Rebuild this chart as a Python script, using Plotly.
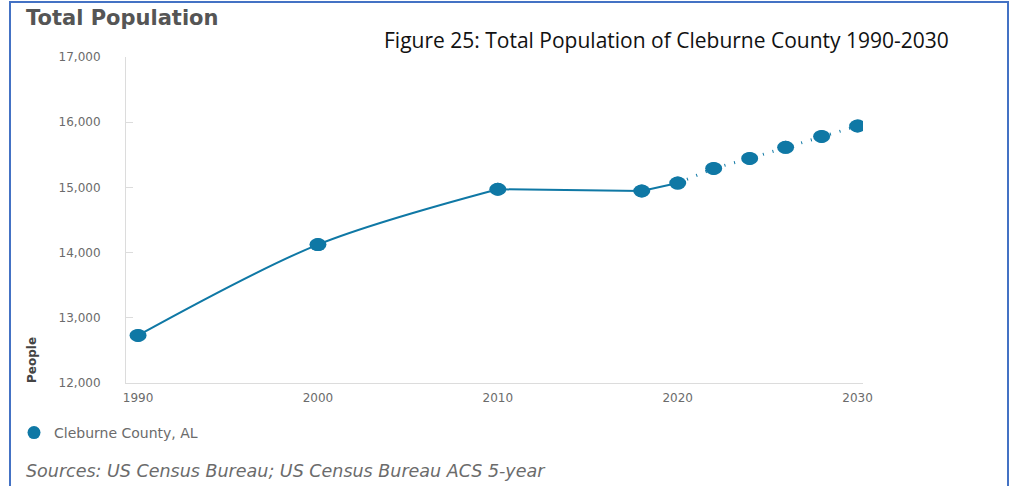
import plotly.graph_objects as go

# Historical census / ACS estimates
hist_years = [1990, 2000, 2010, 2018, 2020]
hist_pop = [12730, 14123, 14972, 14945, 15067]

# Projected population
proj_years = [2020, 2022, 2024, 2026, 2028, 2030]
proj_pop = [15067, 15291, 15445, 15614, 15782, 15942]

y_ticks = [12000, 13000, 14000, 15000, 16000, 17000]
x_ticks = [1990, 2000, 2010, 2020, 2030]

BLUE = "#0F78A5"
TICK_FONT = dict(family="DejaVu Sans", size=12, color="#6b6b6b")

fig = go.Figure()

# Growth phase as a smooth curve, then the flat stretch after 2010
fig.add_trace(go.Scatter(
    x=hist_years[:3], y=hist_pop[:3], mode="lines",
    line=dict(color=BLUE, width=2, shape="spline", smoothing=0.9),
    showlegend=False, hoverinfo="skip",
))
fig.add_trace(go.Scatter(
    x=hist_years[2:], y=hist_pop[2:], mode="lines",
    line=dict(color=BLUE, width=2),
    showlegend=False, hoverinfo="skip",
))
fig.add_trace(go.Scatter(
    x=proj_years, y=proj_pop, mode="lines",
    line=dict(color=BLUE, width=3, dash="1px,9px"),
    showlegend=False, hoverinfo="skip",
))
all_years = hist_years[:-1] + proj_years
all_pop = hist_pop[:-1] + proj_pop
fig.add_trace(go.Scatter(
    x=all_years, y=all_pop, mode="markers",
    marker=dict(color=BLUE, size=13, line=dict(width=0)),
    name="Cleburne County, AL",
))

# Oval point markers, anchored on each data point and sized in pixels
point_shapes = [
    dict(type="circle", xref="x", yref="y", xsizemode="pixel", ysizemode="pixel",
         xanchor=yr, yanchor=val, x0=-8.5, x1=8.5, y0=-6.5, y1=6.5,
         fillcolor=BLUE, line=dict(width=0), layer="above")
    for yr, val in zip(all_years, all_pop)
]

fig.update_xaxes(
    range=[1989.33, 2030.3], tickvals=x_ticks, ticktext=[str(v) for v in x_ticks],
    showgrid=False, zeroline=False, showline=True, linecolor="#dcdcdc", linewidth=1,
    ticks="", tickfont=TICK_FONT, ticklabelstandoff=4,
)
fig.update_yaxes(
    range=[12000, 17000], tickvals=y_ticks, ticktext=[f"{v:,}" for v in y_ticks],
    showgrid=False, zeroline=False, showline=True, linecolor="#dcdcdc", linewidth=1,
    ticks="inside", ticklen=7, tickcolor="#dcdcdc", tickfont=TICK_FONT,
    ticklabelstandoff=22,
)

W, H = 1015, 486
L, R, T, B = 126, 152, 57, 103
pw, ph = W - L - R, H - T - B


def px(xp):
    return (xp - L) / pw


def py(yp):
    return (H - B - yp) / ph


fig.update_layout(
    width=W, height=H,
    margin=dict(l=L, r=R, t=T, b=B),
    paper_bgcolor="white", plot_bgcolor="white",
    showlegend=True,
    legend=dict(x=px(14), y=py(433), xanchor="left", yanchor="middle",
                font=dict(family="DejaVu Sans", size=14, color="#6b6b6b"),
                bgcolor="rgba(0,0,0,0)", itemwidth=30),
    shapes=[dict(type="rect", xref="paper", yref="paper",
                 x0=px(10), x1=px(1008), y0=py(2), y1=py(495),
                 line=dict(color="#4472C4", width=2), fillcolor="rgba(0,0,0,0)")]
    + point_shapes,
    annotations=[
        dict(text="<b>Total Population</b>", xref="paper", yref="paper",
             x=px(24), y=py(18), xanchor="left", yanchor="middle", showarrow=False,
             font=dict(family="DejaVu Sans", size=21, color="#555555")),
        dict(text="Figure 25: Total Population of Cleburne County 1990-2030",
             xref="paper", yref="paper", x=px(382), y=py(40), xanchor="left",
             yanchor="middle", showarrow=False,
             font=dict(family="Open Sans", size=21, color="#111111")),
        dict(text="<b>People</b>", xref="paper", yref="paper",
             x=px(32), y=py(360), xanchor="center", yanchor="middle",
             showarrow=False, textangle=-90,
             font=dict(family="DejaVu Sans", size=12, color="#444444")),
        dict(text="<i>Sources: US Census Bureau; US Census Bureau ACS 5-year</i>",
             xref="paper", yref="paper", x=px(24), y=py(471), xanchor="left",
             yanchor="middle", showarrow=False,
             font=dict(family="DejaVu Sans", size=17.5, color="#6b6b6b")),
    ],
)

fig.write_html("out.html")
